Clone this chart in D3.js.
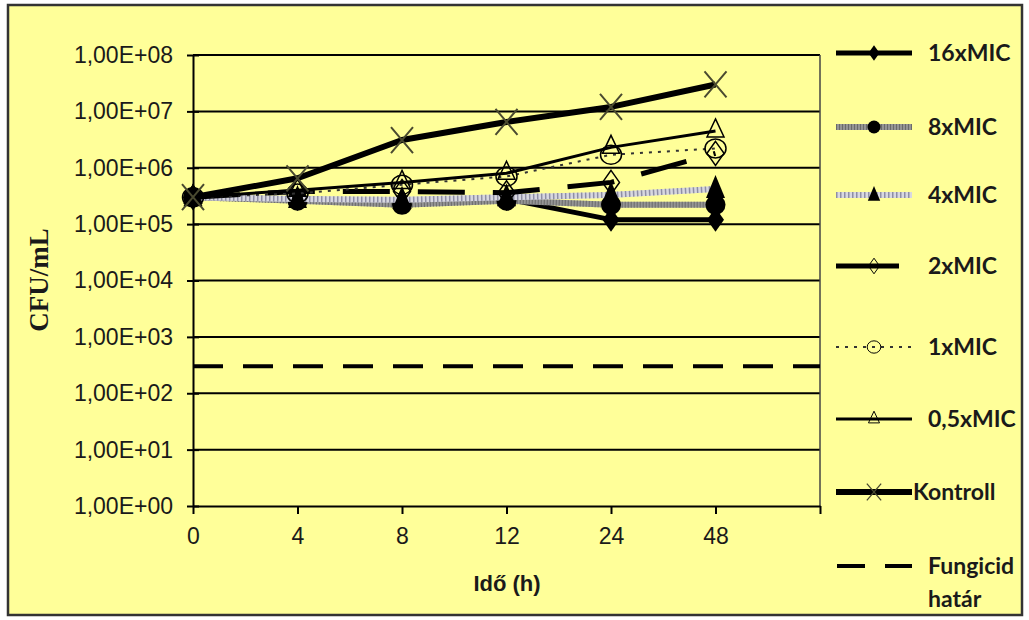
<!DOCTYPE html>
<html>
<head>
<meta charset="utf-8">
<script src="https://cdn.jsdelivr.net/npm/d3@7"></script>
<style>
  html, body { margin: 0; padding: 0; background: #ffffff; }
  svg { display: block; }
</style>
</head>
<body>
<svg id="chart" width="1029" height="620"></svg>
<script>
// Sampling times (h); the axis keeps one empty slot after 48 h
const timeLabels = ["0", "4", "8", "12", "24", "48"];
const categories = [...timeLabels, ""];

// CFU/mL counts per concentration
const mic16   = [3.0e5, 2.8e5, 2.6e5, 2.8e5, 1.2e5, 1.2e5];
const mic8    = [3.0e5, 2.6e5, 2.2e5, 2.6e5, 2.2e5, 2.2e5];
const mic4    = [3.0e5, 2.8e5, 2.7e5, 3.0e5, 3.3e5, 4.2e5];
const mic2    = [3.0e5, 3.8e5, 3.8e5, 3.6e5, 5.5e5, 1.8e6];
const mic1    = [3.0e5, 3.5e5, 5.0e5, 7.0e5, 1.7e6, 2.2e6];
const mic05   = [3.0e5, 4.0e5, 5.5e5, 8.0e5, 2.3e6, 4.5e6];
const kontroll = [3.0e5, 6.5e5, 3.1e6, 6.5e6, 1.2e7, 3.0e7];
// Fungicidal limit (99.9 % reduction of the inoculum), across every slot
const fungicid = [300, 300, 300, 300, 300, 300, 300];

const yTickValues = [1, 1e1, 1e2, 1e3, 1e4, 1e5, 1e6, 1e7, 1e8];
const seriesNames = ["16xMIC", "8xMIC", "4xMIC", "2xMIC", "1xMIC", "0,5xMIC", "Kontroll"];

const plot = { left: 193, right: 820, top: 55, bottom: 506 };
const bg = "#ffff99";

const svg = d3.select("#chart");

// frame
svg.append("rect").attr("x", 8).attr("y", 5).attr("width", 1014).attr("height", 610)
  .attr("fill", bg).attr("stroke", "#333").attr("stroke-width", 2.5);

const x = d3.scalePoint().domain(categories).range([plot.left, plot.right]);
const y = d3.scaleLog().domain([1, 1e8]).range([plot.bottom, plot.top]);

// gridlines
svg.append("g").selectAll("line").data(yTickValues.slice(1)).join("line")
  .attr("x1", plot.left).attr("x2", plot.right)
  .attr("y1", d => y(d)).attr("y2", d => y(d))
  .attr("stroke", "#000").attr("stroke-width", 2);

// right edge of the plot area
svg.append("line").attr("x1", plot.right).attr("x2", plot.right)
  .attr("y1", plot.top).attr("y2", plot.bottom)
  .attr("stroke", "#444").attr("stroke-width", 1.5);

// y axis
const fmtSci = d => {
  const e = Math.round(Math.log10(d));
  return "1,00E+" + String(e).padStart(2, "0");
};
const yAxis = d3.axisLeft(y).tickValues(yTickValues).tickFormat(fmtSci)
  .tickSizeInner(6).tickSizeOuter(0).tickPadding(13);
const gy = svg.append("g").attr("transform", `translate(${plot.left},0)`).call(yAxis);
gy.select(".domain").attr("stroke", "#000").attr("stroke-width", 2);
gy.selectAll(".tick line").attr("stroke", "#000").attr("stroke-width", 2).attr("x2", 6).attr("x1", -6);
gy.selectAll(".tick text").attr("font-family", "'Liberation Sans', Arial, sans-serif")
  .attr("font-size", 23).attr("fill", "#1a1a1a").attr("x", -20);

// x axis
const xAxis = d3.axisBottom(x).tickSizeInner(8).tickSizeOuter(0).tickPadding(14);
const gx = svg.append("g").attr("transform", `translate(0,${plot.bottom})`).call(xAxis);
gx.select(".domain").attr("stroke", "#000").attr("stroke-width", 2);
gx.selectAll(".tick line").attr("stroke", "#000").attr("stroke-width", 2);
gx.selectAll(".tick text").attr("font-family", "'Liberation Sans', Arial, sans-serif")
  .attr("font-size", 23).attr("fill", "#1a1a1a");

// axis titles
svg.append("text").attr("x", 507).attr("y", 591).attr("text-anchor", "middle")
  .attr("font-family", "'Liberation Sans', Arial, sans-serif").attr("font-weight", "bold")
  .attr("font-size", 22).attr("fill", "#1a1a1a").text("Idő (h)");
svg.append("text").attr("transform", "translate(48,280) rotate(-90)").attr("text-anchor", "middle")
  .attr("font-family", "'Liberation Serif', 'Times New Roman', serif").attr("font-weight", "bold")
  .attr("font-size", 27).attr("fill", "#1a1a1a").text("CFU/mL");

// marker shapes
function marker(g, type, cx, cy, k) {
  const s = k || 1;
  const t = g.append("g").attr("transform", `translate(${cx},${cy}) scale(${s})`);
  switch (type) {
    case "diamondFilled":
      t.append("path").attr("d", "M0,-12L8.5,0L0,12L-8.5,0Z").attr("fill", "#000"); break;
    case "circleFilled":
      t.append("circle").attr("r", 10).attr("fill", "#000"); break;
    case "triangleFilled":
      t.append("path").attr("d", "M0,-14L9.5,9L-9.5,9Z").attr("fill", "#000"); break;
    case "diamondOpen":
      t.append("path").attr("d", "M0,-12L8.5,0L0,12L-8.5,0Z").attr("fill", "none")
        .attr("stroke", "#000").attr("stroke-width", 1.5); break;
    case "circleOpen":
      t.append("ellipse").attr("rx", 10.5).attr("ry", 9.5).attr("fill", "none")
        .attr("stroke", "#000").attr("stroke-width", 1.5); break;
    case "triangleOpen":
      t.append("path").attr("d", "M0,-12L8.5,6L-8.5,6Z").attr("fill", "none")
        .attr("stroke", "#000").attr("stroke-width", 1.5); break;
    case "cross":
      t.append("path").attr("d", "M-11,-13L11,13M-11,13L11,-13").attr("fill", "none")
        .attr("stroke", "#4a4a30").attr("stroke-width", 2); break;
  }
}

// stroke layers for each series (drawn bottom to top)
const seriesStyles = {
  "16xMIC":  { layers: [{ color: "#000", width: 5 }], marker: "diamondFilled" },
  "8xMIC":   { layers: [{ color: "#959595", width: 6 }, { color: "#6a6a6a", width: 6, dash: "1,2" }], marker: "circleFilled" },
  "4xMIC":   { layers: [{ color: "#d8d8e0", width: 6 }, { color: "#8e8ea4", width: 6, dash: "1.5,2.5" }], marker: "triangleFilled" },
  "2xMIC":   { layers: [{ color: "#000", width: 5, dash: "47,28" }], legendLayers: [{ color: "#000", width: 5 }], marker: "diamondOpen" },
  "1xMIC":   { layers: [{ color: "#333", width: 2, dash: "3,6" }], marker: "circleOpen" },
  "0,5xMIC": { layers: [{ color: "#000", width: 3 }], marker: "triangleOpen" },
  "Kontroll":{ layers: [{ color: "#000", width: 6 }], marker: "cross" }
};
const seriesValues = [mic16, mic8, mic4, mic2, mic1, mic05, kontroll];

const line = d3.line().x((d, i) => x(categories[i])).y(d => y(d));

// fungicidal limit line sits under the series
svg.append("path").datum(fungicid).attr("d", line).attr("fill", "none")
  .attr("stroke", "#000").attr("stroke-width", 4).attr("stroke-dasharray", "30,20");

seriesNames.forEach((name, si) => {
  const st = seriesStyles[name];
  const vals = seriesValues[si];
  const g = svg.append("g");
  st.layers.forEach(L => {
    g.append("path").datum(vals).attr("d", line).attr("fill", "none")
      .attr("stroke", L.color).attr("stroke-width", L.width)
      .attr("stroke-dasharray", L.dash || null).attr("stroke-linejoin", "round");
  });
  vals.forEach((v, i) => marker(g, st.marker, x(categories[i]), y(v), 1));
});

// legend
const legendRows = [53, 127, 195, 266, 347, 419, 492];
const lx1 = 836, lx2 = 912, lmx = 874;
seriesNames.forEach((name, i) => {
  const st = seriesStyles[name];
  const g = svg.append("g");
  const ly = legendRows[i];
  (st.legendLayers || st.layers).forEach(L => {
    g.append("line").attr("x1", lx1).attr("x2", name === "2xMIC" ? 899 : lx2)
      .attr("y1", ly).attr("y2", ly)
      .attr("stroke", L.color).attr("stroke-width", L.width)
      .attr("stroke-dasharray", L.dash || null);
  });
  marker(g, st.marker, lmx, ly, 0.65);
  g.append("text").attr("x", name === "Kontroll" ? 913 : 928).attr("y", ly).attr("dy", "0.35em")
    .attr("font-family", "Lato, 'Open Sans', sans-serif").attr("font-weight", "bold")
    .attr("font-size", 23).attr("fill", "#1a1a1a").text(name);
});
// fungicidal limit entry
svg.append("line").attr("x1", 837).attr("x2", 912).attr("y1", 566).attr("y2", 566)
  .attr("stroke", "#000").attr("stroke-width", 4).attr("stroke-dasharray", "28,20");
const ft = svg.append("text").attr("x", 928).attr("y", 566).attr("dy", "0.35em")
  .attr("font-family", "Lato, 'Open Sans', sans-serif").attr("font-weight", "bold")
  .attr("font-size", 23).attr("fill", "#1a1a1a");
ft.append("tspan").attr("x", 928).text("Fungicid");
ft.append("tspan").attr("x", 928).attr("dy", "1.45em").text("határ");
</script>
</body>
</html>
